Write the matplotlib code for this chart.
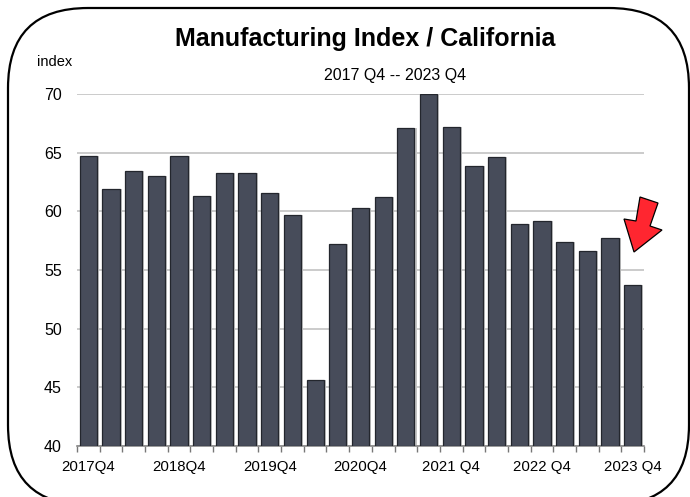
import numpy as np
import matplotlib.pyplot as plt
from matplotlib.patches import FancyBboxPatch, Polygon

plt.rcParams['font.family'] = ['Liberation Sans', 'DejaVu Sans']

# kwartaalcijfers 2017Q4 t/m 2023Q4
kwartalen = ['2017Q4', '2018Q1', '2018Q2', '2018Q3', '2018Q4', '2019Q1', '2019Q2',
             '2019Q3', '2019Q4', '2020Q1', '2020Q2', '2020Q3', '2020Q4', '2021Q1',
             '2021Q2', '2021Q3', '2021Q4', '2022Q1', '2022Q2', '2022Q3', '2022Q4',
             '2023Q1', '2023Q2', '2023Q3', '2023Q4']
waarden = [64.7, 61.9, 63.4, 63.0, 64.7, 61.3, 63.3, 63.3, 61.6, 59.7, 45.6, 57.2,
           60.3, 61.2, 67.1, 70.0, 67.2, 63.9, 64.6, 58.9, 59.2, 57.4, 56.6, 57.7, 53.7]
labelpos = [0, 4, 8, 12, 16, 20, 24]
labels = ['2017Q4', '2018Q4', '2019Q4', '2020Q4', '2021 Q4', '2022 Q4', '2023 Q4']

W, H = 690, 497
fig = plt.figure(figsize=(W / 100, H / 100), dpi=100)
ax = fig.add_axes([77 / W, 1 - 446 / H, (644 - 77) / W, (446 - 94) / H])

x = np.arange(len(waarden))
# schaduw achter de balken
ax.bar(x + 0.09, np.array(waarden) - 40, bottom=40, width=0.76, color='#c4c4c4', zorder=2)
ax.bar(x, np.array(waarden) - 40, bottom=40, width=0.76, color='#474c5a',
       edgecolor='#23262d', linewidth=0.9, zorder=3)

ax.set_xlim(-0.5, len(waarden) - 0.5)
ax.set_ylim(40, 70)
ax.set_yticks([40, 45, 50, 55, 60, 65, 70])
ax.tick_params(axis='y', length=0, pad=11, labelsize=11.5)
ax.yaxis.grid(True, color='#c2c2c2', linewidth=1.2, zorder=0)
ax.set_axisbelow(True)

# streepjes tussen de kwartalen, labels onder elk vierde kwartaal
ax.set_xticks(np.arange(-0.5, len(waarden)), minor=True)
ax.set_xticks(labelpos)
ax.set_xticklabels(labels)
ax.tick_params(axis='x', which='minor', length=4, color='#777777', width=1)
ax.tick_params(axis='x', which='major', length=0, pad=10, labelsize=10.8)

for s in ['top', 'right', 'left']:
    ax.spines[s].set_visible(False)
ax.spines['bottom'].set_color('#888888')
ax.spines['bottom'].set_linewidth(1.2)

# laag over de hele figuur in pixels (y van boven gemeten via H - y)
bg = fig.add_axes([0, 0, 1, 1], zorder=5)
bg.set_xlim(0, W)
bg.set_ylim(0, H)
bg.axis('off')
bg.patch.set_visible(False)

bg.text(365, H - 46, 'Manufacturing Index / California', ha='center',
        va='baseline', fontsize=18, fontweight='bold')
bg.text(37, H - 66.5, 'index', ha='left', va='baseline', fontsize=10.5)
bg.text(395, H - 80, '2017 Q4 -- 2023 Q4', ha='center', va='baseline', fontsize=11.5)

# afgeronde rand, onderkant valt net buiten beeld
bg.add_patch(FancyBboxPatch((8, H - 505), 681, 497, boxstyle='round,pad=0,rounding_size=80',
                            facecolor='none', edgecolor='black', linewidth=1.6, clip_on=False))

# rode pijl naar het laatste kwartaal
pijl = [(640, 197), (658, 203), (650, 226), (662, 230), (634, 252), (624, 219), (636, 221)]
pijl = [(px, H - py) for px, py in pijl]
bg.add_patch(Polygon(pijl, closed=True, facecolor='#ff2630', edgecolor='black', linewidth=0.9))

plt.savefig('out.png', dpi=100)
